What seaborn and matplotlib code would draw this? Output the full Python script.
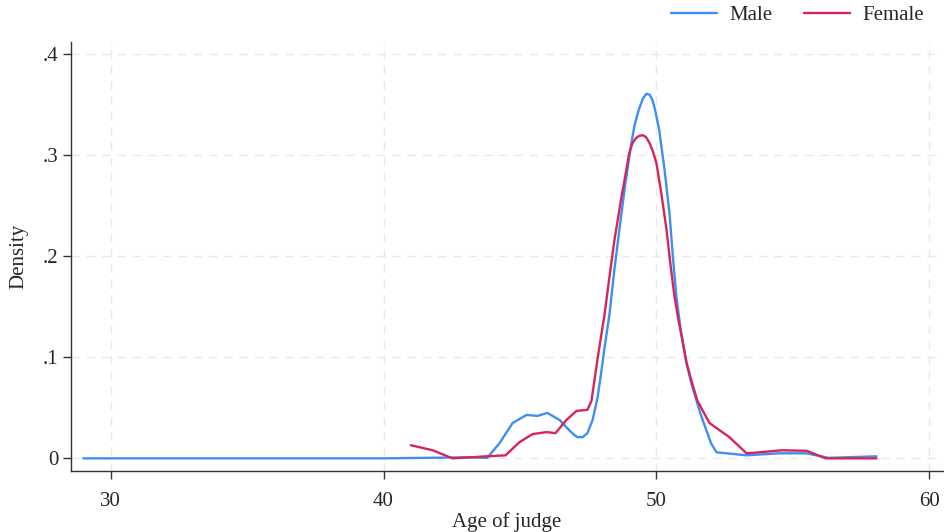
import numpy as np
import pandas as pd
import seaborn as sns
import matplotlib.pyplot as plt

# density values, per group
male_age = [29.0, 40.0, 43.0, 43.8, 44.25, 44.73, 45.24, 45.64, 46.0, 46.45, 46.8, 46.95, 47.1,
            47.3, 47.47, 47.66, 47.84, 47.95, 48.1, 48.28, 48.45, 48.64, 48.85, 49.08, 49.2,
            49.35, 49.5, 49.63, 49.75, 49.85, 49.95, 50.1, 50.3, 50.48, 50.6, 50.73, 50.9,
            51.1, 51.3, 51.47, 51.6, 51.8, 52.0, 52.2, 53.3, 54.5, 55.5, 56.3, 58.06]
male_density = [0.0, 0.0, 0.001, 0.0005, 0.015, 0.035, 0.043, 0.042, 0.045, 0.038, 0.028, 0.024, 0.021,
                0.021, 0.025, 0.038, 0.06, 0.08, 0.11, 0.143, 0.185, 0.226, 0.27, 0.312, 0.33,
                0.345, 0.356, 0.361, 0.360, 0.355, 0.345, 0.325, 0.285, 0.242, 0.2, 0.16, 0.125,
                0.094, 0.072, 0.057, 0.045, 0.03, 0.015, 0.006, 0.003, 0.005, 0.005, 0.0005, 0.002]

female_age = [41.0, 41.8, 42.53, 43.77, 44.47, 44.98, 45.46, 45.97, 46.3, 46.7, 47.07, 47.47, 47.62,
              47.85, 48.1, 48.28, 48.46, 48.72, 48.86, 49.0, 49.12, 49.25, 49.35, 49.49, 49.62,
              49.75, 49.88, 50.0, 50.18, 50.37, 50.5, 50.66, 50.8, 50.95, 51.1, 51.28,
              51.5, 51.94, 52.67, 53.3, 53.77, 54.6, 55.5, 56.2, 58.06]
female_density = [0.013, 0.008, 0.0, 0.002, 0.003, 0.016, 0.024, 0.026, 0.025, 0.038, 0.047, 0.048, 0.057,
                  0.10, 0.143, 0.18, 0.216, 0.259, 0.28, 0.302, 0.312, 0.317, 0.319, 0.320, 0.318,
                  0.312, 0.303, 0.292, 0.262, 0.226, 0.195, 0.16, 0.138, 0.117, 0.095, 0.077,
                  0.057, 0.035, 0.021, 0.005, 0.006, 0.008, 0.0075, 0.0, 0.0]

x_ticks = [30, 40, 50, 60]
y_ticks = [0, 0.1, 0.2, 0.3, 0.4]
y_labels = ["0", ".1", ".2", ".3", ".4"]

df = pd.concat([
    pd.DataFrame({"age": male_age, "density": male_density, "sex": "Male"}),
    pd.DataFrame({"age": female_age, "density": female_density, "sex": "Female"}),
])

sns.set_style("white")
plt.rcParams['font.family'] = ['Liberation Serif', 'DejaVu Serif']
fs = 15

fig = plt.figure(figsize=(9.44, 5.32), dpi=100)
ax = fig.add_axes([0.0752, 0.1147, 0.9238, 0.806])

sns.lineplot(data=df, x="age", y="density", hue="sex", sort=False, estimator=None,
             palette={"Male": "#3d8ff2", "Female": "#d6245c"}, linewidth=1.7, ax=ax)

ax.set_xlim(28.55, 60.5)
ax.set_ylim(-0.0125, 0.412)
ax.set_xticks(x_ticks)
ax.set_yticks(y_ticks)
ax.set_yticklabels(y_labels)
ax.tick_params(axis="both", direction="out", length=6, width=1, color="#333333",
               labelsize=fs, left=True, bottom=True)
ax.tick_params(axis="x", pad=9)
ax.tick_params(axis="y", pad=3)
ax.grid(True, linestyle=(0, (6, 5)), color="#e8e8e8", linewidth=1)
ax.set_axisbelow(True)
for side in ["top", "right"]:
    ax.spines[side].set_visible(False)
for side in ["left", "bottom"]:
    ax.spines[side].set_color("#333333")
    ax.spines[side].set_linewidth(1)

ax.set_xlabel("Age of judge", fontsize=fs, labelpad=1)
ax.set_ylabel("Density", fontsize=fs, labelpad=10)

ax.legend(loc="center right", bbox_to_anchor=(0.978, 1.063), ncol=2, frameon=False,
          fontsize=fs, handlelength=2.2, columnspacing=1.5, handletextpad=0.6,
          borderaxespad=0, borderpad=0)

plt.savefig("out.png", dpi=100)
